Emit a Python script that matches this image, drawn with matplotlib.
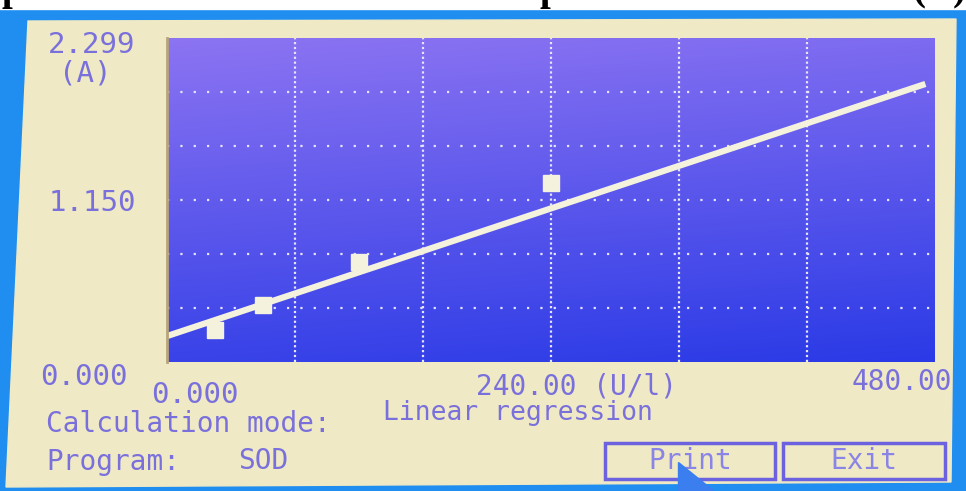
import numpy as np
import matplotlib
matplotlib.use("Agg")
import matplotlib.pyplot as plt
from matplotlib.patches import Polygon, Rectangle

# calibration points
conc = [30, 60, 120, 240]          # U/l
absorb = [0.227, 0.404, 0.71, 1.27]  # A
# regression line as shown on the instrument
fit_x = [0, 474]
fit_y = [0.184, 1.973]

x_max = 480.0
y_max = 2.299
x_ticks = ["0.000", "240.00 (U/l)", "480.00"]
y_ticks = ["0.000", "1.150", "2.299"]

txt_col = "#7a70dc"
cream = "#efe9c6"
mono = "DejaVu Sans Mono"

fig = plt.figure(figsize=(9.66, 4.91), dpi=100)

# background in pixel coordinates
bg = fig.add_axes([0, 0, 1, 1])
bg.set_xlim(0, 966)
bg.set_ylim(491, 0)
bg.axis("off")
bg.add_patch(Rectangle((0, 0), 966, 491, color="#1f8ef0", zorder=0))
bg.add_patch(Rectangle((0, 0), 966, 9, color="white", zorder=1))
bg.add_patch(Polygon([(28, 21), (956, 19), (951, 482), (6, 487)],
                     closed=True, color=cream, zorder=1))

# cut-off title above the photo (only the descenders are in frame)
for xp, s in [(2, "p"), (540, "p"), (912, "("), (953, ")")]:
    bg.text(xp, 0, s, fontsize=28, fontweight="bold", family="Liberation Serif",
            color="black", va="baseline", ha="left", zorder=2)

# axis labels drawn on the screen
num = 21
lab = 20
bg.text(92, 45, y_ticks[2], fontsize=num, family=mono, color=txt_col, ha="center", va="center")
bg.text(85, 73, "(A)", fontsize=num, family=mono, color=txt_col, ha="center", va="center")
bg.text(92, 203, y_ticks[1], fontsize=num, family=mono, color=txt_col, ha="center", va="center")
bg.text(84, 377, y_ticks[0], fontsize=num, family=mono, color=txt_col, ha="center", va="center")
bg.text(195, 395, x_ticks[0], fontsize=num, family=mono, color=txt_col, ha="center", va="center")
bg.text(577, 387, x_ticks[1], fontsize=lab, family=mono, color=txt_col, ha="center", va="center")
bg.text(902, 382, x_ticks[2], fontsize=lab, family=mono, color=txt_col, ha="center", va="center")

bg.text(46, 424, "Calculation mode:", fontsize=lab, family=mono, color=txt_col, ha="left", va="center")
bg.text(383, 413, "Linear regression", fontsize=19, family=mono, color=txt_col, ha="left", va="center")
bg.text(46, 462, "Program:", fontsize=lab, family=mono, color=txt_col, ha="left", va="center")
bg.text(238, 461, "SOD", fontsize=lab, family=mono, color=txt_col, ha="left", va="center")

# buttons
for x0, w, name in [(605, 170, "Print"), (783, 162, "Exit")]:
    bg.add_patch(Rectangle((x0, 443), w, 36, fill=False, ec="#6c62e0", lw=2.5, zorder=3))
    bg.text(x0 + w / 2, 461, name, fontsize=lab, family=mono, color="#8a84e6",
            ha="center", va="center", zorder=3)
# touch cursor
bg.add_patch(Polygon([(678, 462), (678, 491), (714, 491)], closed=True,
                     color="#3a7ef0", zorder=4))

# plot area
ax = fig.add_axes([167 / 966, 1 - 362 / 491, 768 / 966, 324 / 491])
ax.set_xlim(0, x_max)
ax.set_ylim(0, y_max)

gy = np.linspace(0, 1, 200)[:, None]
gx = np.linspace(0, 1, 200)[None, :]
top = np.array([0x8c, 0x74, 0xf2]) / 255
bot = np.array([0x2a, 0x3a, 0xe6]) / 255
t = np.clip(gy * 0.85 + (gx * 0.15), 0, 1)
img = top[None, None, :] * (1 - t[..., None]) + bot[None, None, :] * t[..., None]
ax.imshow(img, extent=[0, x_max, 0, y_max], aspect="auto", zorder=0)

for xv in np.arange(80, x_max, 80):
    ax.axvline(xv, color="#e8e4f8", lw=1.6, ls=(0, (1, 1.2)), zorder=1)
for yv in np.linspace(0, y_max, 7)[1:-1]:
    ax.axhline(yv, color="#e8e4f8", lw=1.6, ls=(0, (1, 5)), zorder=1)

ax.plot(fit_x, fit_y, color="#f4f2dc", lw=4.5, solid_capstyle="butt", zorder=2)
ax.plot(conc, absorb, ls="none", marker="s", ms=12, color="#f4f2dc", zorder=3)

ax.set_xticks([])
ax.set_yticks([])
for sp in ax.spines.values():
    sp.set_visible(False)
ax.spines["left"].set_visible(True)
ax.spines["left"].set_color("#b8a47a")
ax.spines["left"].set_linewidth(2)

fig.savefig("out.png", dpi=100)
